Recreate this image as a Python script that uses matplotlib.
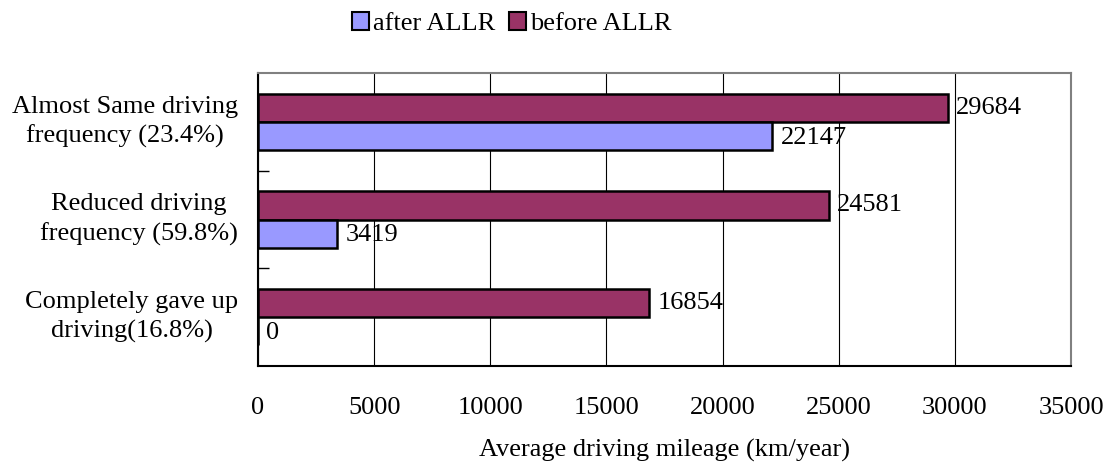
import numpy as np
import matplotlib.pyplot as plt
from matplotlib.patches import Patch

plt.rcParams['font.family'] = ['Liberation Serif', 'DejaVu Serif']

categories = ['Almost Same driving\nfrequency (23.4%)',
              'Reduced driving\nfrequency (59.8%)',
              'Completely gave up\ndriving(16.8%)']
before = [29684, 24581, 16854]
after = [22147, 3419, 0]
xticks = [0, 5000, 10000, 15000, 20000, 25000, 30000, 35000]

c_before = '#993366'
c_after = '#9999FF'
fs = 19

fig = plt.figure(figsize=(11.1, 4.68), dpi=100)
ax = fig.add_axes([258 / 1110, 1 - 366 / 468, 813 / 1110, 293 / 468])

y = np.arange(len(categories))
h = 0.287
ax.barh(y - h / 2, before, height=h, color=c_before, edgecolor='black', linewidth=1.8, zorder=3)
ax.barh(y + h / 2, after, height=h, color=c_after, edgecolor='black', linewidth=1.8, zorder=3)

for yi, v in zip(y, before):
    ax.text(v + 350, yi - h / 2, str(v), va='center', ha='left', fontsize=fs, zorder=4)
for yi, v in zip(y, after):
    ax.text(v + 350, yi + h / 2 + 0.02, str(v), va='center', ha='left', fontsize=fs, zorder=4)

ax.set_xlim(0, 35000)
ax.set_ylim(len(categories) - 0.5, -0.5)
ax.set_xticks(xticks)
ax.set_xticklabels([str(t) for t in xticks], fontsize=fs)
ax.tick_params(axis='x', length=0, pad=22)
ax.grid(axis='x', color='black', linewidth=0.8, zorder=0)

# category labels sit between the boundary ticks
ax.set_yticks([0.5, 1.5])
ax.set_yticklabels([])
ax.tick_params(axis='y', direction='in', length=8, width=1)
for yi, lab in zip(y, categories):
    ax.text(-0.0246, yi, lab, transform=ax.get_yaxis_transform(), ha='right', va='center',
            multialignment='center', fontsize=fs, linespacing=1.4)

for side in ['left', 'bottom']:
    ax.spines[side].set_color('black')
    ax.spines[side].set_linewidth(1.5)
for side in ['top', 'right']:
    ax.spines[side].set_color('#808080')
    ax.spines[side].set_linewidth(1.5)

ax.set_xlabel('Average driving mileage (km/year)', fontsize=fs, labelpad=15)

handles = [Patch(facecolor=c_after, edgecolor='black', linewidth=1.5, label='after ALLR'),
           Patch(facecolor=c_before, edgecolor='black', linewidth=1.5, label='before ALLR')]
fig.legend(handles=handles, loc='upper center', bbox_to_anchor=(0.461, 1.025), ncol=2, frameon=False,
           fontsize=fs, handlelength=0.65, handleheight=0.65, handletextpad=0.15, columnspacing=0.5)

fig.savefig('out.png', dpi=100)
